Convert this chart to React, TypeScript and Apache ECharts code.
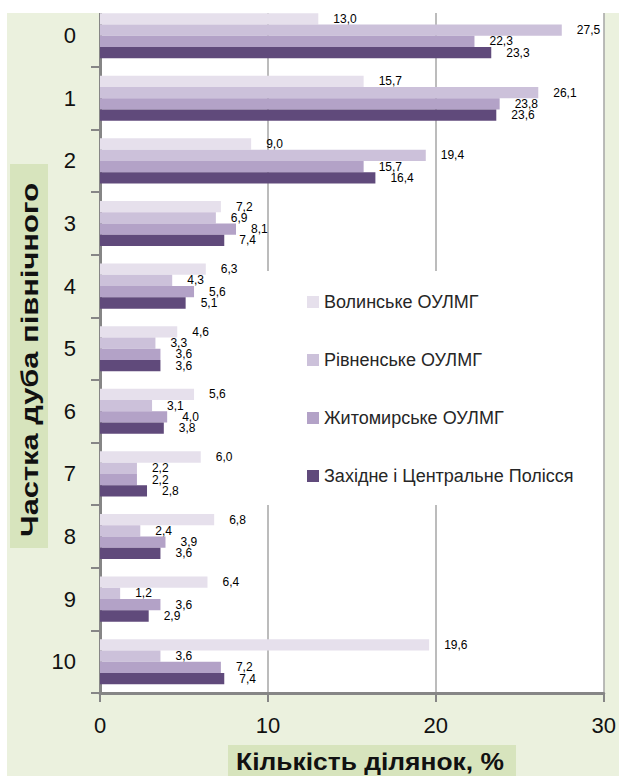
import React, { useEffect, useRef } from 'react';
import * as echarts from 'echarts';

const categories = ['0', '1', '2', '3', '4', '5', '6', '7', '8', '9', '10'];
const seriesNames = [
  'Волинське ОУЛМГ',
  'Рівненське ОУЛМГ',
  'Житомирське ОУЛМГ',
  'Західне і Центральне Полісся',
];
const volynske = [13.0, 15.7, 9.0, 7.2, 6.3, 4.6, 5.6, 6.0, 6.8, 6.4, 19.6];
const rivnenske = [27.5, 26.1, 19.4, 6.9, 4.3, 3.3, 3.1, 2.2, 2.4, 1.2, 3.6];
const zhytomyrske = [22.3, 23.8, 15.7, 8.1, 5.6, 3.6, 4.0, 2.2, 3.9, 3.6, 7.2];
const zakhidne = [23.3, 23.6, 16.4, 7.4, 5.1, 3.6, 3.8, 2.8, 3.6, 2.9, 7.4];
const xMin = 0;
const xMax = 30;
const xStep = 10;
const colors = ['#E6E0EC', '#CCC1DA', '#B3A2C7', '#604A7B'];
const xTitle = 'Кількість ділянок, %';
const yTitle = 'Частка дуба північного';

const FONT = '"Liberation Sans", Arial, sans-serif';

function measure(text: string, font: string): number {
  const c = document.createElement('canvas');
  const ctx = c.getContext('2d');
  if (!ctx) return 1;
  ctx.font = font;
  return ctx.measureText(text).width || 1;
}

export default function App() {
  const ref = useRef<HTMLDivElement>(null);
  useEffect(() => {
    if (!ref.current) return;
    const chart = echarts.init(ref.current, undefined, { renderer: 'svg' });
    const titleFont = 'bold 23px ' + FONT;
    const yTitleFont = 'bold 24px ' + FONT;
    const xTitleScale = 268 / measure(xTitle, titleFont);
    const yTitleScale = 354 / measure(yTitle, yTitleFont);
    const dataSets = [volynske, rivnenske, zhytomyrske, zakhidne];
    const fmt = (p: any) => Number(p.value).toFixed(1).replace('.', ',');

    chart.setOption({
      animation: false,
      backgroundColor: '#EBF1DE',
      textStyle: { fontFamily: FONT },
      grid: {
        left: 100,
        right: 13.5,
        top: 4.4,
        bottom: 83,
        containLabel: false,
        show: true,
        backgroundColor: '#ffffff',
        borderWidth: 0,
      },
      legend: {
        orient: 'vertical',
        left: 307,
        top: 292,
        padding: 0,
        itemWidth: 12,
        itemHeight: 12,
        itemGap: 38,
        icon: 'rect',
        z: 10,
        textStyle: { fontSize: 18, color: '#262626', fontFamily: FONT, lineHeight: 20 },
        data: seriesNames,
      },
      xAxis: {
        type: 'value',
        min: xMin,
        max: xMax,
        interval: xStep,
        axisLine: { show: true, lineStyle: { color: '#868686', width: 3 } },
        axisTick: { show: true, length: 9, lineStyle: { color: '#868686', width: 2 } },
        axisLabel: { fontSize: 22, color: '#111', margin: 21, fontFamily: FONT },
        splitLine: { show: true, lineStyle: { color: '#A6A6A6', width: 1.5 } },
      },
      yAxis: {
        type: 'category',
        inverse: true,
        data: categories,
        axisLine: { show: true, lineStyle: { color: '#868686', width: 3 } },
        axisTick: { show: true, length: 9, alignWithLabel: false, lineStyle: { color: '#868686', width: 2 } },
        axisLabel: { fontSize: 22, color: '#111', margin: 24, fontFamily: FONT },
        splitLine: { show: false },
      },
      series: dataSets.map((d, i) => ({
        name: seriesNames[i],
        type: 'bar',
        data: d,
        barGap: '0%',
        barCategoryGap: '28%',
        itemStyle: { color: colors[i] },
        z: 3,
        label: {
          show: true,
          position: 'right',
          distance: 15,
          fontSize: 12,
          color: '#000',
          fontFamily: FONT,
          formatter: fmt,
        },
      })),
      graphic: [
        {
          type: 'rect',
          z: 1,
          shape: { x: 245, y: 271, width: 353, height: 234 },
          style: { fill: '#ffffff' },
          silent: true,
        },
        {
          type: 'rect',
          z: 100,
          shape: { x: 0, y: 0, width: 619, height: 13 },
          style: { fill: '#ffffff' },
          silent: true,
        },
        {
          type: 'rect',
          z: 100,
          shape: { x: 0, y: 0, width: 7, height: 776 },
          style: { fill: '#ffffff' },
          silent: true,
        },
        {
          type: 'rect',
          z: 5,
          shape: { x: 228, y: 745, width: 288, height: 40 },
          style: { fill: '#D7E4BD' },
          silent: true,
        },
        {
          type: 'text',
          z: 6,
          x: 370,
          y: 762,
          scaleX: xTitleScale,
          style: {
            text: xTitle,
            font: titleFont,
            fill: '#111',
            align: 'center',
            verticalAlign: 'middle',
            textAlign: 'center',
            textVerticalAlign: 'middle',
          },
          silent: true,
        },
        {
          type: 'rect',
          z: 5,
          shape: { x: 10, y: 164, width: 38, height: 384 },
          style: { fill: '#D7E4BD' },
          silent: true,
        },
        {
          type: 'text',
          z: 6,
          x: 30,
          y: 360,
          rotation: Math.PI / 2,
          scaleX: yTitleScale,
          style: {
            text: yTitle,
            font: yTitleFont,
            fill: '#111',
            align: 'center',
            verticalAlign: 'middle',
            textAlign: 'center',
            textVerticalAlign: 'middle',
          },
          silent: true,
        },
      ],
    });
    return () => chart.dispose();
  }, []);
  return (
    <div
      ref={ref}
      style={{ position: 'absolute', left: 0, top: 0, width: 619, height: 776 }}
    />
  );
}
